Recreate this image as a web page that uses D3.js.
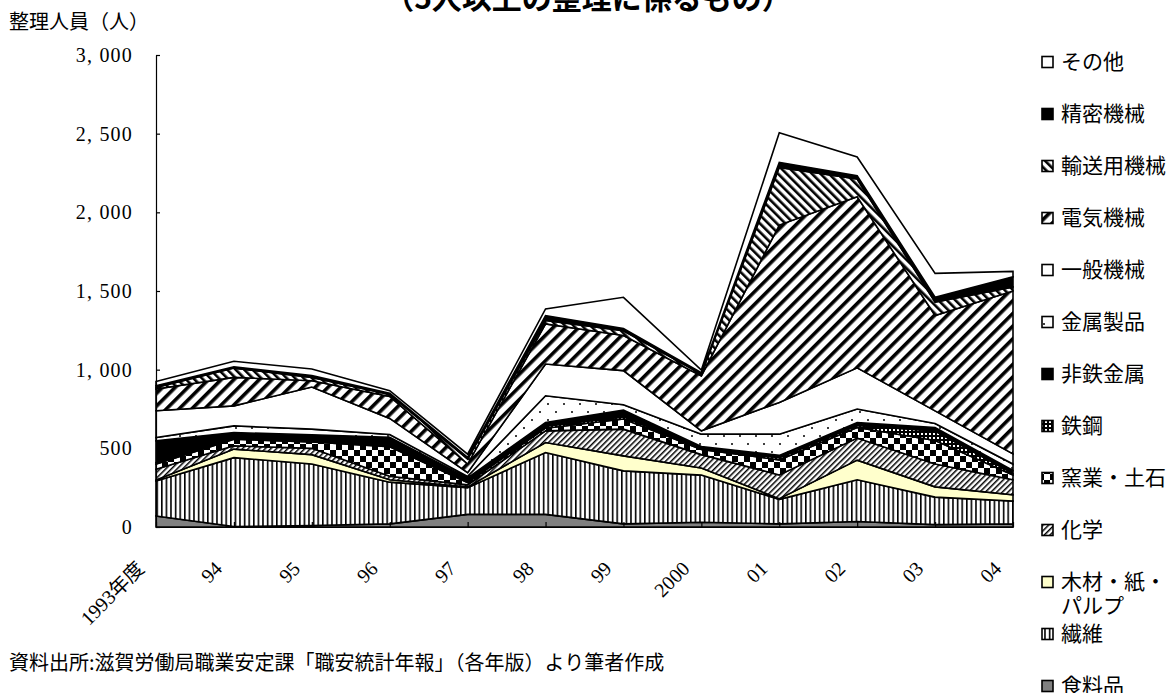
<!DOCTYPE html>
<html>
<head>
<meta charset="utf-8">
<script src="https://cdn.jsdelivr.net/npm/d3@7"></script>
<style>
  body { margin: 0; background: #fff; }
  svg { display: block; }
</style>
</head>
<body>
<svg id="chart" width="1171" height="693"></svg>
<script>
// 年度（カテゴリ）
const years = ["1993年度", "94", "95", "96", "97", "98", "99", "2000", "01", "02", "03", "04"];

// 産業別整理人員（人）
const food        = [70, 3, 10, 20, 80, 80, 20, 30, 20, 35, 15, 20];
const textile     = [223, 438, 390, 265, 170, 393, 337, 300, 156, 265, 175, 145];
const wood        = [5, 54, 60, 15, 5, 64, 95, 45, 4, 125, 65, 40];
const chemical    = [69, 21, 40, 22, 13, 74, 170, 85, 151, 140, 145, 95];
const ceramics    = [33, 42, 40, 188, 15, 17, 64, 32, 96, 67, 150, 30];
const steel       = [10, 5, 10, 10, 7, 12, 14, 6, 13, 13, 60, 10];
const nonferrous  = [138, 37, 36, 50, 22, 24, 43, 14, 15, 19, 22, 20];
const metalProd   = [21, 43, 36, 18, 10, 170, 34, 78, 135, 86, 26, 40];
const generalMach = [170, 127, 268, 102, 23, 202, 217, 21, 202, 262, 80, 65];
const electrical  = [138, 181, 40, 140, 55, 255, 223, 349, 1127, 1087, 606, 1035];
const transport   = [10, 59, 20, 12, 32, 21, 30, 12, 367, 113, 85, 25];
const precision   = [11, 8, 12, 8, 11, 32, 15, 8, 32, 21, 31, 65];
const others      = [27, 35, 42, 16, 20, 42, 198, 18, 188, 119, 152, 35];

// 系列名（積み上げ順：下から）
const seriesNames = ["食料品", "繊維", "木材・紙・パルプ", "化学", "窯業・土石", "鉄鋼",
  "非鉄金属", "金属製品", "一般機械", "電気機械", "輸送用機械", "精密機械", "その他"];
const seriesValues = [food, textile, wood, chemical, ceramics, steel,
  nonferrous, metalProd, generalMach, electrical, transport, precision, others];

// 凡例表示用ラベル（上から）
const legendLabels = ["その他", "精密機械", "輸送用機械", "電気機械", "一般機械", "金属製品",
  "非鉄金属", "鉄鋼", "窯業・土石", "化学", "木材・紙・\nパルプ", "繊維", "食料品"];

const yTicks = [0, 500, 1000, 1500, 2000, 2500, 3000];

const titleText = "（5人以上の整理に係るもの）";
const yTitle = "整理人員（人）";
const sourceNote = "資料出所:滋賀労働局職業安定課「職安統計年報」（各年版）より筆者作成";

const JP = "'Noto Sans CJK JP', 'Noto Sans', sans-serif";
const NUM = "'Liberation Serif', 'DejaVu Serif', serif";

// 表データの組み立て
const table = years.map((yr, i) => {
  const row = { year: yr };
  seriesNames.forEach((n, k) => { row[n] = seriesValues[k][i]; });
  return row;
});

const svg = d3.select("#chart");
const defs = svg.append("defs");

// 塗りパターン
function stripePattern(id, size, lineW, angle) {
  const p = defs.append("pattern").attr("id", id)
    .attr("patternUnits", "userSpaceOnUse")
    .attr("width", size).attr("height", size)
    .attr("patternTransform", `rotate(${angle})`);
  p.append("rect").attr("width", size).attr("height", size).attr("fill", "#fff");
  p.append("rect").attr("width", lineW).attr("height", size).attr("fill", "#000");
}
stripePattern("pat-textile", 4.6, 1.6, 0);
stripePattern("pat-chem", 4, 1.5, 45);
stripePattern("pat-elec", 9, 3.6, 45);
stripePattern("pat-trans", 6, 2.6, -45);

(function () {
  const p = defs.append("pattern").attr("id", "pat-ceram")
    .attr("patternUnits", "userSpaceOnUse").attr("width", 12).attr("height", 12);
  p.append("rect").attr("width", 12).attr("height", 12).attr("fill", "#fff");
  p.append("rect").attr("width", 6).attr("height", 6).attr("fill", "#000");
  p.append("rect").attr("x", 6).attr("y", 6).attr("width", 6).attr("height", 6).attr("fill", "#000");
})();
(function () {
  const p = defs.append("pattern").attr("id", "pat-steel")
    .attr("patternUnits", "userSpaceOnUse").attr("width", 4).attr("height", 4);
  p.append("rect").attr("width", 4).attr("height", 4).attr("fill", "#000");
  p.append("rect").attr("x", 1).attr("y", 1).attr("width", 2).attr("height", 2).attr("fill", "#fff");
})();
(function () {
  const p = defs.append("pattern").attr("id", "pat-metal")
    .attr("patternUnits", "userSpaceOnUse").attr("width", 16).attr("height", 16);
  p.append("rect").attr("width", 16).attr("height", 16).attr("fill", "#fff");
  p.append("circle").attr("cx", 4).attr("cy", 4).attr("r", 1).attr("fill", "#000");
  p.append("circle").attr("cx", 12).attr("cy", 12).attr("r", 1).attr("fill", "#000");
})();

const fills = {
  "食料品": "#808080",
  "繊維": "url(#pat-textile)",
  "木材・紙・パルプ": "#ffffcc",
  "化学": "url(#pat-chem)",
  "窯業・土石": "url(#pat-ceram)",
  "鉄鋼": "url(#pat-steel)",
  "非鉄金属": "#000",
  "金属製品": "url(#pat-metal)",
  "一般機械": "#fff",
  "電気機械": "url(#pat-elec)",
  "輸送用機械": "url(#pat-trans)",
  "精密機械": "#000",
  "その他": "#fff"
};

// スケール
const x = d3.scalePoint().domain(years).range([156, 1013]);
const y = d3.scaleLinear().domain([0, 3000]).range([527, 55]);

// 積み上げ面
const stacked = d3.stack().keys(seriesNames)(table);
const area = d3.area()
  .x(d => x(d.data.year))
  .y0(d => y(d[0]))
  .y1(d => y(d[1]));

svg.append("g").selectAll("path")
  .data(stacked)
  .join("path")
  .attr("d", area)
  .attr("fill", d => fills[d.key])
  .attr("stroke", "#000")
  .attr("stroke-width", 1.6)
  .attr("stroke-linejoin", "miter");

// Y軸
const yAxis = svg.append("g")
  .attr("transform", "translate(156,0)")
  .call(d3.axisLeft(y).tickValues(yTicks).tickSize(-4).tickSizeOuter(0).tickPadding(23)
    .tickFormat(v => d3.format(",")(v).replace(",", ", ")));
yAxis.select(".domain").attr("stroke", "#000").attr("stroke-width", 1.2);
yAxis.selectAll(".tick line").attr("stroke", "#000").attr("stroke-width", 1.2);
yAxis.selectAll("text")
  .attr("font-family", NUM).attr("font-size", 20).attr("fill", "#000")
  .style("letter-spacing", "1.2px");

// X軸
const xAxis = svg.append("g")
  .attr("transform", "translate(0,527)")
  .call(d3.axisBottom(x).tickSize(-5).tickSizeOuter(0));
xAxis.select(".domain").attr("stroke", "#000").attr("stroke-width", 1.2);
xAxis.selectAll(".tick line").attr("stroke", "#000").attr("stroke-width", 1.2);
xAxis.selectAll("text")
  .attr("x", 0).attr("y", 0).attr("dy", "0.35em")
  .attr("transform", "translate(-16,38) rotate(-45)")
  .attr("text-anchor", "end")
  .attr("font-family", `${NUM}, 'Noto Sans CJK JP'`)
  .attr("font-size", 20).attr("fill", "#000");

// タイトル・軸タイトル・出典
svg.append("text").attr("x", 588).attr("y", 9)
  .attr("text-anchor", "middle").attr("font-family", JP)
  .attr("font-weight", "bold").attr("font-size", 30).text(titleText);
svg.append("text").attr("x", 9).attr("y", 29)
  .attr("font-family", JP).attr("font-size", 20).text(yTitle);
svg.append("text").attr("x", 9).attr("y", 670)
  .attr("font-family", JP).attr("font-size", 20).text(sourceNote);

// 凡例
const legend = svg.append("g");
const legendKeys = seriesNames.slice().reverse();
legendKeys.forEach((key, i) => {
  const cy = 62 + 52 * i;
  legend.append("rect")
    .attr("x", 1042).attr("y", cy - 5.5).attr("width", 11).attr("height", 11)
    .attr("fill", fills[key]).attr("stroke", "#000").attr("stroke-width", 1.6);
  const lines = legendLabels[i].split("\n");
  const t = legend.append("text").attr("font-family", JP).attr("font-size", 21);
  lines.forEach((ln, j) => {
    t.append("tspan").attr("x", 1061).attr("y", cy + 7 + j * 24).text(ln);
  });
});
</script>
</body>
</html>
